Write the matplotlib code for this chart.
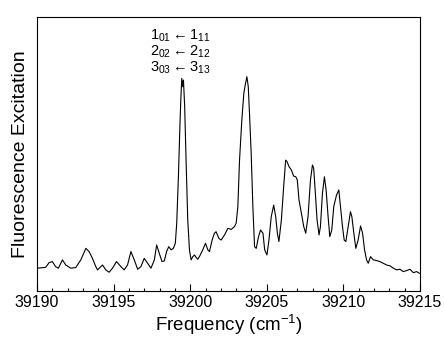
import matplotlib.pyplot as plt
from matplotlib.ticker import MultipleLocator

freq_offset = [0.02, 0.57, 0.79, 1.00, 1.22, 1.40, 1.66, 1.88, 2.20, 2.53,
               2.86, 3.19, 3.40, 3.62, 3.84, 3.95, 4.28, 4.49, 4.71, 4.93,
               5.19, 5.48, 5.69, 5.91, 6.13, 6.35, 6.57, 6.78, 7.00, 7.22,
               7.44, 7.66, 7.81, 7.98, 8.16, 8.31, 8.46, 8.60, 8.75, 8.90,
               9.03, 9.12, 9.23, 9.34, 9.40, 9.45, 9.51, 9.56, 9.64, 9.73,
               9.84, 9.95, 10.06, 10.17, 10.28, 10.38, 10.49, 10.60, 10.82, 11.00,
               11.15, 11.26, 11.43, 11.58, 11.69, 11.87, 12.02, 12.24, 12.46, 12.68,
               12.89, 13.00, 13.11, 13.22, 13.37, 13.50, 13.61, 13.70, 13.79, 13.87,
               13.98, 14.09, 14.20, 14.31, 14.46, 14.59, 14.75, 14.86, 15.01, 15.14,
               15.29, 15.45, 15.58, 15.69, 15.79, 15.95, 16.10, 16.23, 16.32, 16.45,
               16.60, 16.75, 16.89, 16.99, 17.10, 17.26, 17.41, 17.54, 17.69, 17.85,
               17.98, 18.06, 18.17, 18.28, 18.41, 18.50, 18.63, 18.76, 18.87, 19.00,
               19.11, 19.24, 19.37, 19.55, 19.70, 19.81, 19.94, 20.05, 20.16, 20.31,
               20.46, 20.55, 20.68, 20.81, 20.96, 21.12, 21.25, 21.38, 21.51, 21.62,
               21.77, 21.95, 22.16, 22.38, 22.60, 22.82, 23.04, 23.26, 23.47, 23.69,
               23.91, 24.13, 24.35, 24.56, 24.78, 24.96]
intensidad = [10.2, 10.6, 12.8, 13.3, 10.9, 10.2, 14.1, 11.7, 10.2, 10.5,
              14.1, 19.5, 18.0, 14.8, 10.9, 9.4, 11.7, 9.4, 8.3, 10.2,
              13.3, 10.9, 9.4, 11.7, 18.0, 14.1, 9.7, 10.9, 14.8, 12.5,
              10.2, 14.1, 21.1, 17.2, 13.3, 13.6, 18.0, 20.3, 18.8, 19.5,
              21.9, 31.3, 53.1, 79.7, 91.4, 99.2, 95.3, 98.4, 85.9, 60.9,
              32.8, 18.8, 14.1, 15.6, 16.4, 15.3, 14.4, 15.6, 18.8, 21.9,
              18.8, 18.0, 23.4, 26.6, 27.3, 24.2, 23.4, 25.8, 28.9, 28.4,
              29.7, 31.3, 39.1, 60.9, 79.7, 92.2, 96.9, 100.0, 95.3, 82.8,
              64.1, 39.1, 20.3, 19.5, 25.0, 28.1, 26.6, 18.8, 16.4, 23.4,
              34.4, 39.8, 34.4, 26.6, 22.7, 32.8, 48.4, 60.9, 60.2, 57.8,
              56.3, 53.4, 53.1, 51.6, 42.2, 35.9, 29.7, 26.6, 34.4, 51.6,
              58.6, 57.0, 45.3, 32.8, 25.8, 29.7, 45.3, 53.1, 46.9, 34.4,
              25.0, 28.1, 39.1, 44.5, 46.9, 39.1, 29.7, 23.4, 22.7, 29.7,
              36.7, 34.4, 26.6, 19.5, 23.4, 30.0, 26.6, 18.8, 14.1, 12.5,
              15.6, 14.1, 13.8, 13.3, 12.5, 11.7, 11.3, 10.2, 9.4, 9.7,
              8.6, 9.1, 9.7, 8.1, 8.6, 7.8]
freq_base = 39190
frecuencia = [freq_base + f for f in freq_offset]

etiqueta = ('$1_{01} \\leftarrow 1_{11}$\n'
            '$2_{02} \\leftarrow 2_{12}$\n'
            '$3_{03} \\leftarrow 3_{13}$')

plt.rcParams['font.family'] = 'Liberation Sans'
plt.rcParams['mathtext.fontset'] = 'custom'
plt.rcParams['mathtext.rm'] = 'Liberation Sans'
plt.rcParams['mathtext.it'] = 'Liberation Sans'

fig = plt.figure(figsize=(4.44, 3.43), dpi=100)
ax = fig.add_axes([0.0833, 0.1516, 0.8627, 0.7988])

ax.plot(frecuencia, intensidad, color='black', linewidth=0.8)

ax.set_xlim(39190, 39215)
ax.set_ylim(-0.5, 128)
ax.xaxis.set_major_locator(MultipleLocator(5))
ax.xaxis.set_minor_locator(MultipleLocator(1))
ax.set_yticks([])
ax.tick_params(axis='x', which='major', direction='in', length=5, width=0.8,
               labelsize=11.5, pad=3)
ax.tick_params(axis='x', which='minor', direction='in', length=2.5, width=0.8)
ax.xaxis.get_major_formatter().set_useOffset(False)
for s in ax.spines.values():
    s.set_linewidth(0.8)

ax.set_xlabel('Frequency (cm$^{-1}$)', fontsize=13.5, labelpad=2)
ax.set_ylabel('Fluorescence Excitation', fontsize=14, labelpad=6)

ax.text(39199.35, 123, etiqueta, fontsize=10.5, ha='center', va='top',
        linespacing=0.95)

fig.savefig('out.png', dpi=100)
